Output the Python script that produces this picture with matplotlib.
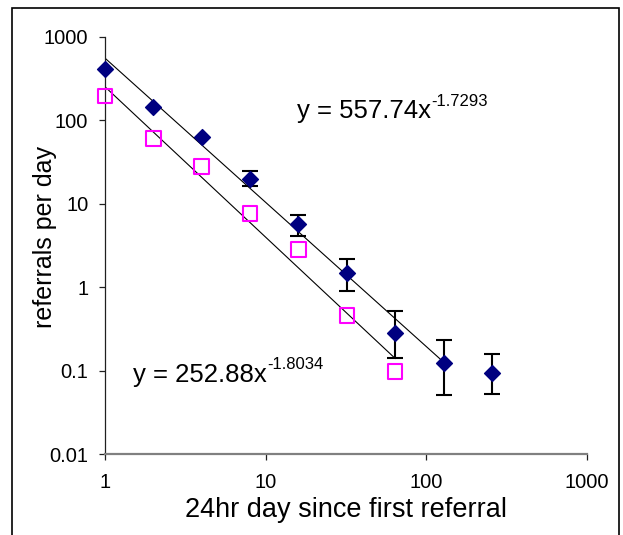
import numpy as np
import matplotlib
matplotlib.use("Agg")
import matplotlib.pyplot as plt
from matplotlib.patches import Rectangle

plt.rcParams['font.family'] = ['Liberation Sans', 'DejaVu Sans']

# data
days_all = [1, 2, 4, 8, 16, 32, 64, 128, 256]
referrals_all = [410, 145, 63, 20, 5.7, 1.5, 0.285, 0.122, 0.094]
err_low = [None, None, None, 16.3, 4.1, 0.89, 0.143, 0.051, 0.053]
err_high = [None, None, None, 24.7, 7.3, 2.16, 0.52, 0.23, 0.157]

days_sub = [1, 2, 4, 8, 16, 32, 64]
referrals_sub = [195, 61, 28, 7.7, 2.85, 0.46, 0.097]

fit_all = (557.74, -1.7293)
fit_sub = (252.88, -1.8034)
fit_all_range = (1, 128)
fit_sub_range = (1, 64)

x_ticks = [1, 10, 100, 1000]
x_tick_labels = ['1', '10', '100', '1000']
y_ticks = [0.01, 0.1, 1, 10, 100, 1000]
y_tick_labels = ['0.01', '0.1', '1', '10', '100', '1000']

W, H = 623, 535
fig = plt.figure(figsize=(W / 100, H / 100), dpi=100)
ax = fig.add_axes([105 / W, 1 - 454 / H, (587 - 105) / W, (454 - 37) / H])

ax.set_xscale('log')
ax.set_yscale('log')
ax.set_xlim(1, 1000)
ax.set_ylim(0.01, 1000)

# trend lines
xa = np.logspace(np.log10(fit_all_range[0]), np.log10(fit_all_range[1]), 100)
ax.plot(xa, fit_all[0] * xa ** fit_all[1], color='black', lw=0.8, zorder=2)
xs = np.logspace(np.log10(fit_sub_range[0]), np.log10(fit_sub_range[1]), 100)
ax.plot(xs, fit_sub[0] * xs ** fit_sub[1], color='black', lw=0.8, zorder=2)

# error bars
ex, ey, elo, ehi = [], [], [], []
for d, r, lo, hi in zip(days_all, referrals_all, err_low, err_high):
    if lo is not None:
        ex.append(d); ey.append(r); elo.append(r - lo); ehi.append(hi - r)
ax.errorbar(ex, ey, yerr=[elo, ehi], fmt='none', ecolor='black', elinewidth=1.5,
            capsize=6, capthick=1.5, zorder=3)

ax.scatter(days_all, referrals_all, marker='D', s=65, color='#000080', zorder=4, clip_on=False)
ax.scatter(days_sub, referrals_sub, marker='s', s=110, facecolors='none', edgecolors='#FF00FF',
           linewidths=1.5, zorder=4, clip_on=False)

for side in ['top', 'right']:
    ax.spines[side].set_visible(False)
ax.spines['left'].set_color('#202020')
ax.spines['left'].set_linewidth(0.9)
ax.spines['bottom'].set_color('#808080')
ax.spines['bottom'].set_linewidth(1.6)

ax.set_xticks(x_ticks)
ax.set_xticklabels(x_tick_labels)
ax.set_yticks(y_ticks)
ax.set_yticklabels(y_tick_labels)
ax.minorticks_off()
ax.tick_params(axis='both', which='major', direction='out', length=4, width=0.9,
               color='#202020', labelsize=14.5, labelcolor='black')
ax.tick_params(axis='x', pad=10)
ax.tick_params(axis='y', pad=8)

fig.text(0.5 * (105 + 587) / W, 1 - 517 / H, '24hr day since first referral',
         fontsize=19.5, ha='center', va='baseline')
fig.text(45 / W, 1 - 237 / H, 'referrals per day', fontsize=18, rotation=90,
         ha='center', va='center')

# equations
def equation(x_px, base_px, main, sup, sup_rise_px):
    t = fig.text(x_px / W, 1 - base_px / H, main, fontsize=18.5, ha='left', va='baseline')
    fig.canvas.draw()
    bb = t.get_window_extent()
    fig.text(bb.x1 / W + 0.5 / W, 1 - (base_px - sup_rise_px) / H, sup, fontsize=12,
             ha='left', va='baseline')

equation(297, 118, 'y = %.2fx' % fit_all[0], '%.4f' % fit_all[1], 11.5)
equation(133, 382, 'y = %.2fx' % fit_sub[0], '%.4f' % fit_sub[1], 13)

# figure frame
fig.patches.append(Rectangle((12 / W, -0.05), (619 - 12) / W, 1.05 - 8 / H,
                             transform=fig.transFigure, fill=False, edgecolor='black', lw=1.2))

fig.savefig('out.png', dpi=100)
